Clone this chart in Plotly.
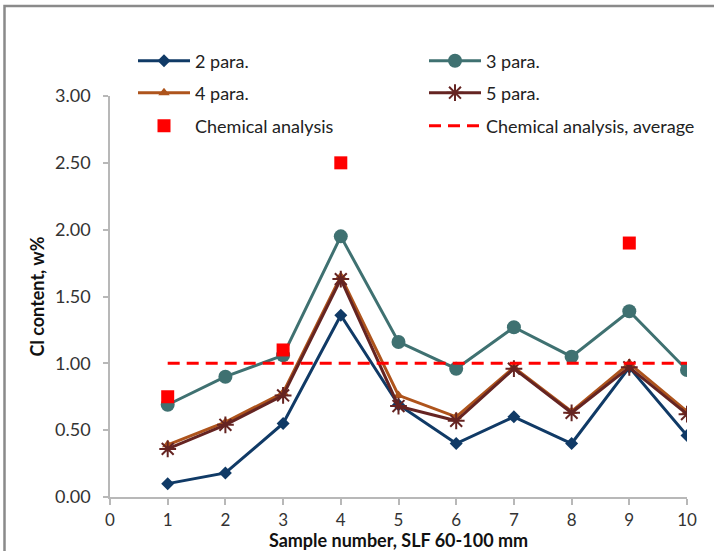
import plotly.graph_objects as go

# Sample numbers and Cl content (w%) per model
samples = [1, 2, 3, 4, 5, 6, 7, 8, 9, 10]
para2 = [0.10, 0.18, 0.55, 1.36, 0.69, 0.40, 0.60, 0.40, 0.97, 0.46]
para3 = [0.69, 0.90, 1.06, 1.95, 1.16, 0.96, 1.27, 1.05, 1.39, 0.95]
para4 = [0.39, 0.56, 0.78, 1.65, 0.76, 0.60, 0.97, 0.64, 1.00, 0.64]
para5 = [0.36, 0.54, 0.76, 1.63, 0.68, 0.57, 0.96, 0.63, 0.97, 0.62]

# Chemical analysis results (only measured for some samples)
chem_samples = [1, 3, 4, 9]
chem_values = [0.75, 1.10, 2.50, 1.90]
chem_average = 1.00

x_ticks = [0, 1, 2, 3, 4, 5, 6, 7, 8, 9, 10]
y_ticks = [0.0, 0.5, 1.0, 1.5, 2.0, 2.5, 3.0]
y_tick_labels = ["0.00", "0.50", "1.00", "1.50", "2.00", "2.50", "3.00"]

FONT = "Lato"
W, H = 714, 551
ML, MR, MT, MB = 110, 27, 96, 54
PW, PH = W - ML - MR, H - MT - MB

# Legend grid: two columns, three rows (pixel positions of each entry)
COL_X = [133, 424]
ROW_Y = [61, 93, 126]

fig = go.Figure()

fig.add_trace(go.Scatter(
    x=samples, y=para2, name="2 para.", mode="lines+markers",
    line=dict(color="#103A66", width=3),
    marker=dict(symbol="diamond", size=10, color="#103A66"),
    legend="legend"))
fig.add_trace(go.Scatter(
    x=samples, y=para3, name="3 para.", mode="lines+markers",
    line=dict(color="#3F7171", width=3),
    marker=dict(symbol="circle", size=14, color="#3F7171"),
    legend="legend2"))
fig.add_trace(go.Scatter(
    x=samples, y=para4, name="4 para.", mode="lines+markers",
    line=dict(color="#AE541C", width=3),
    marker=dict(symbol="triangle-up", size=10, color="#AE541C"),
    legend="legend3"))
fig.add_trace(go.Scatter(
    x=samples, y=para5, name="5 para.", mode="lines+markers",
    line=dict(color="#652422", width=3),
    marker=dict(symbol="asterisk-open", size=14, color="#652422",
                line=dict(color="#652422", width=2)),
    legend="legend4"))
fig.add_trace(go.Scatter(
    x=chem_samples, y=chem_values, name="Chemical analysis", mode="markers",
    marker=dict(symbol="square", size=13, color="#FF0000"),
    legend="legend5"))
fig.add_trace(go.Scatter(
    x=[samples[0], samples[-1]], y=[chem_average, chem_average],
    name="Chemical analysis, average", mode="lines",
    line=dict(color="#FF0000", width=3, dash="12px,7px"),
    legend="legend6"))

axis_color = "#B8B8B8"


def legend_entry(col, row):
    return dict(
        orientation="v", xref="paper", yref="paper",
        x=(COL_X[col] - ML) / PW, xanchor="left",
        y=1 + (MT - ROW_Y[row]) / PH, yanchor="middle",
        font=dict(family=FONT, size=18, color="#222222"),
        bgcolor="rgba(0,0,0,0)", itemwidth=52,
    )


fig.update_layout(
    width=W, height=H,
    margin=dict(l=ML, r=MR, t=MT, b=MB),
    paper_bgcolor="white", plot_bgcolor="white",
    font=dict(family=FONT, size=18, color="#333333"),
    showlegend=True,
    legend=legend_entry(0, 0),
    legend2=legend_entry(1, 0),
    legend3=legend_entry(0, 1),
    legend4=legend_entry(1, 1),
    legend5=legend_entry(0, 2),
    legend6=legend_entry(1, 2),
    xaxis=dict(
        range=[0, 10], tickmode="array", tickvals=x_ticks,
        ticktext=[str(v) for v in x_ticks],
        showgrid=False, zeroline=False, automargin=False,
        showline=True, linecolor=axis_color, linewidth=1.5,
        ticks="outside", ticklen=6, tickcolor=axis_color, tickwidth=1.5,
        ticklabelstandoff=1,
        tickfont=dict(family=FONT, size=17, color="#333333"),
        title=dict(text="<b>Sample number, SLF 60-100 mm</b>",
                   font=dict(family=FONT, size=18, color="#111111"),
                   standoff=0),
    ),
    yaxis=dict(
        range=[0, 3], tickmode="array", tickvals=y_ticks,
        ticktext=y_tick_labels,
        showgrid=False, zeroline=False, automargin=False,
        showline=True, linecolor=axis_color, linewidth=1.5,
        ticks="outside", ticklen=5, tickcolor=axis_color, tickwidth=1.5,
        ticklabelstandoff=9,
        tickfont=dict(family=FONT, size=18, color="#333333"),
        title=dict(text="<b>Cl content, w%</b>",
                   font=dict(family=FONT, size=18, color="#111111"),
                   standoff=6),
    ),
)

# Chart frame: left and top edges of the chart border
fig.add_shape(type="rect", xref="paper", yref="paper",
              x0=(4.5 - ML) / PW, x1=(W + 20 - ML) / PW,
              y0=-(MB + 20) / PH, y1=1 + (MT - 6) / PH,
              line=dict(color="#8A8A8A", width=2.5),
              fillcolor="rgba(0,0,0,0)", layer="below")

fig.write_html("out.html")
